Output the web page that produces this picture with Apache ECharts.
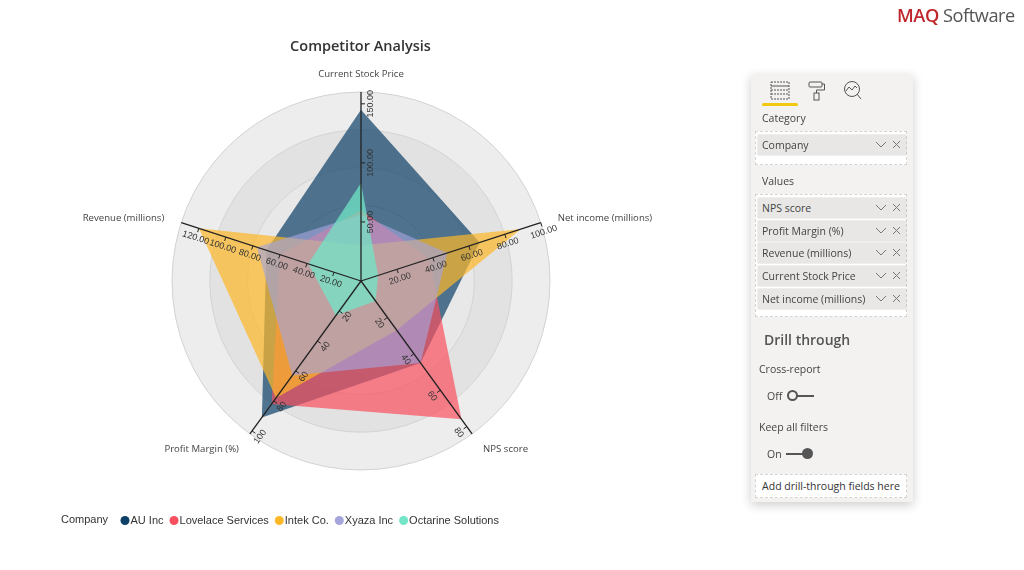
<!DOCTYPE html>
<html>
<head>
<meta charset="utf-8">
<script src="https://cdn.jsdelivr.net/npm/echarts@6/dist/echarts.min.js"></script>
<style>
html, body { margin: 0; padding: 0; background: #fff; width: 1024px; height: 570px; overflow: hidden; }
#chart { position: absolute; left: 0; top: 0; width: 1024px; height: 570px; }
#logo { position: absolute; left: 897px; top: 3px; font: 18.2px "Open Sans", sans-serif; color: #555; letter-spacing: -0.45px; white-space: nowrap; }
#logo b { color: #c0272d; font-weight: 600; }
#panel { position: absolute; left: 751px; top: 74px; width: 162px; height: 428px; background: #f3f2f1; box-shadow: 0 3px 10px rgba(0,0,0,.2); font: 10.5px "Open Sans", sans-serif; color: #444; }
#panel div { position: absolute; white-space: nowrap; }
.well { left: 4px; width: 152px; border: 1px dashed #d4d4d4; background: #fff; box-sizing: border-box; }
.chip { left: 7px; width: 148px; height: 20px; line-height: 20px; background: #e8e7e6; box-shadow: 0 0 1px #999; text-indent: 4px; }
.chip svg { position: absolute; right: 3px; top: 4px; }
.toggle { height: 2px; width: 22px; background: #555; }
.knob { width: 11px; height: 11px; border-radius: 50%; box-sizing: border-box; }
</style>
</head>
<body>
<div id="chart"></div>
<div id="logo"><b>MAQ</b> Software</div>
<div id="panel">
  <svg style="position:absolute;left:11px;top:5px" width="110" height="24" fill="none" stroke="#555">
    <rect x="9" y="3" width="18" height="17" stroke-dasharray="2 1"/><line x1="9" y1="7" x2="27" y2="7"/><line x1="9" y1="11" x2="27" y2="11" stroke-dasharray="2 1"/><line x1="9" y1="15" x2="27" y2="15" stroke-dasharray="2 1"/>
    <rect x="47" y="3" width="13" height="5" rx="1"/><path d="M60 5h2.5v6h-8v3"/><rect x="52" y="14" width="5" height="7"/>
    <circle cx="90" cy="10" r="7.5"/><path d="M84 12l3-4 3 3 3-4 2 2M95 15l4 5"/>
  </svg>
  <div style="left:11px;top:29px;width:36px;height:3px;background:#f2c811;border-radius:2px"></div>
  <div style="left:11px;top:37px">Category</div>
  <div class="well" style="top:57px;height:34px"></div>
  <div class="chip" style="top:61px">Company<svg width="30" height="12" fill="none" stroke="#777"><path d="M3 3l5 5 5-5M20 2l7 7M27 2l-7 7"/></svg></div>
  <div style="left:11px;top:100px">Values</div>
  <div class="well" style="top:120px;height:123px"></div>
  <div class="chip" style="top:124px">NPS score<svg width="30" height="12" fill="none" stroke="#777"><path d="M3 3l5 5 5-5M20 2l7 7M27 2l-7 7"/></svg></div>
  <div class="chip" style="top:147px">Profit Margin (%)<svg width="30" height="12" fill="none" stroke="#777"><path d="M3 3l5 5 5-5M20 2l7 7M27 2l-7 7"/></svg></div>
  <div class="chip" style="top:169px">Revenue (millions)<svg width="30" height="12" fill="none" stroke="#777"><path d="M3 3l5 5 5-5M20 2l7 7M27 2l-7 7"/></svg></div>
  <div class="chip" style="top:192px">Current Stock Price<svg width="30" height="12" fill="none" stroke="#777"><path d="M3 3l5 5 5-5M20 2l7 7M27 2l-7 7"/></svg></div>
  <div class="chip" style="top:215px">Net income (millions)<svg width="30" height="12" fill="none" stroke="#777"><path d="M3 3l5 5 5-5M20 2l7 7M27 2l-7 7"/></svg></div>
  <div style="left:13px;top:256px;font-size:14px;font-weight:600;color:#555">Drill through</div>
  <div style="left:8px;top:288px">Cross-report</div>
  <div style="left:16px;top:315px">Off</div>
  <div class="toggle" style="left:41px;top:321px"></div>
  <div class="knob" style="left:36px;top:316px;background:#f3f2f1;border:2px solid #555"></div>
  <div style="left:8px;top:346px">Keep all filters</div>
  <div style="left:16px;top:373px">On</div>
  <div class="toggle" style="left:35px;top:379px"></div>
  <div class="knob" style="left:51px;top:374px;background:#555"></div>
  <div class="well" style="top:400px;height:24px;line-height:22px;text-align:center;color:#333">Add drill-through fields here</div>
</div>
<script>
const companies = ['AU Inc', 'Lovelace Services', 'Intek Co.', 'Xyaza Inc', 'Octarine Solutions'];
const indicatorNames = ['Current Stock Price', 'Revenue (millions)', 'Profit Margin (%)', 'NPS score', 'Net income (millions)'];
const indicatorMax = [160, 133, 102, 84, 100];

// same order as indicatorNames
const auInc = [145, 70, 91, 45, 66];
const lovelace = [60, 60, 82, 76, 38];
const intek = [30, 120, 78, 27, 89];
const xyaza = [56, 77, 63, 45, 48];
const octarine = [83, 39, 23, 11, 9.5];

const stockTicks = [50, 100, 150];
const revenueTicks = [20, 40, 60, 80, 100, 120];
const marginTicks = [20, 40, 60, 80, 100];
const npsTicks = [20, 40, 60, 80];
const incomeTicks = [20, 40, 60, 80, 100];

const seriesValues = [auInc, lovelace, intek, xyaza, octarine];
const colors = ['#0d4066', '#f9505f', '#fdb827', '#a5a5dc', '#72e6c6'];
const fillOpacity = [0.7, 0.7, 0.7, 0.64, 0.75];
const axisTicks = [stockTicks, revenueTicks, marginTicks, npsTicks, incomeTicks];
const tickDecimals = [2, 2, 0, 0, 2];
// axis name placement from the axis end
const nameOffset = [[0, -18, 'center'], [-17, -4, 'right'], [-11, 15, 'right'], [11, 15, 'left'], [17, -4, 'left']];

const chart = echarts.init(document.getElementById('chart'));

chart.setOption({
    animation: false,
    title: {
        text: 'Competitor Analysis',
        left: 355.5,
        top: 34,
        textAlign: 'center',
        textStyle: { fontFamily: 'Open Sans', fontSize: 14.5, fontWeight: 600, color: '#333' }
    },
    legend: {
        left: 115.5,
        top: 510,
        itemWidth: 9,
        itemHeight: 9,
        itemGap: 6,
        icon: 'circle',
        data: companies,
        textStyle: { fontFamily: 'Liberation Sans', fontSize: 11, color: '#333', padding: [0, 0, 0, -4] }
    },
    radar: {
        center: [361, 281],
        radius: 189,
        shape: 'circle',
        splitNumber: 5,
        startAngle: 90,
        indicator: indicatorNames.map((name, i) => ({ name: name, min: 0, max: indicatorMax[i] })),
        axisName: { show: false },
        axisLine: { show: false },
        splitLine: { lineStyle: { color: '#d2d2d2', width: 1 } },
        splitArea: { areaStyle: { color: ['#e9e9e9', '#e9e9e9', '#e8e8e8', '#e2e2e2', '#ededed'] } }
    },
    series: companies.map((name, i) => ({
        name: name,
        type: 'radar',
        symbol: 'none',
        lineStyle: { width: 0 },
        itemStyle: { color: colors[i] },
        areaStyle: { color: colors[i], opacity: fillOpacity[i] },
        data: [{ name: name, value: seriesValues[i] }]
    }))
});

// radar axes only tick at the split rings, so lines, ticks and labels are added from the coordinate system
function buildAxisGraphics() {
    const radar = chart.getModel().getComponent('radar').coordinateSystem;
    const elements = [];
    const origin = radar.dataToPoint(0, 0);

    indicatorNames.forEach((name, i) => {
        const end = radar.dataToPoint(indicatorMax[i], i);
        const len = Math.hypot(end[0] - origin[0], end[1] - origin[1]);
        const dx = (end[0] - origin[0]) / len;
        const dy = (end[1] - origin[1]) / len;
        // label side: below the axis, the vertical one to the right
        let nx = -dy, ny = dx;
        if (ny < 0 || (ny === 0 && nx < 0)) { nx = -nx; ny = -ny; }
        if (Math.abs(dx) < 0.01) { nx = 1; ny = 0; }
        let rotation = Math.atan2(-dy, dx);
        if (dx < -0.01) rotation += Math.PI;
        if (rotation > Math.PI) rotation -= 2 * Math.PI;

        elements.push({
            type: 'line', z: 100, silent: true,
            shape: { x1: origin[0], y1: origin[1], x2: end[0], y2: end[1] },
            style: { stroke: '#222', lineWidth: 1.3 }
        });
        elements.push({
            type: 'text', z: 100, silent: true,
            x: end[0] + nameOffset[i][0], y: end[1] + nameOffset[i][1],
            style: {
                text: name, fill: '#444', font: '9.6px "Open Sans"',
                align: nameOffset[i][2], verticalAlign: 'middle'
            }
        });
        axisTicks[i].forEach(tick => {
            const p = radar.dataToPoint(tick, i);
            elements.push({
                type: 'line', z: 100, silent: true,
                shape: { x1: p[0], y1: p[1], x2: p[0] + nx * 4, y2: p[1] + ny * 4 },
                style: { stroke: '#222', lineWidth: 1 }
            });
            elements.push({
                type: 'text', z: 100, silent: true,
                x: p[0] + nx * 10, y: p[1] + ny * 10, rotation: rotation,
                style: {
                    text: tick.toFixed(tickDecimals[i]), fill: '#333',
                    font: '9px "Liberation Sans"', align: 'center', verticalAlign: 'middle'
                }
            });
        });
    });

    elements.push({
        type: 'text', x: 61, y: 520, silent: true,
        style: { text: 'Company', fill: '#333', font: '11px "Liberation Sans"', verticalAlign: 'middle' }
    });
    chart.setOption({ graphic: { elements: elements } });
}

buildAxisGraphics();
</script>
</body>
</html>
